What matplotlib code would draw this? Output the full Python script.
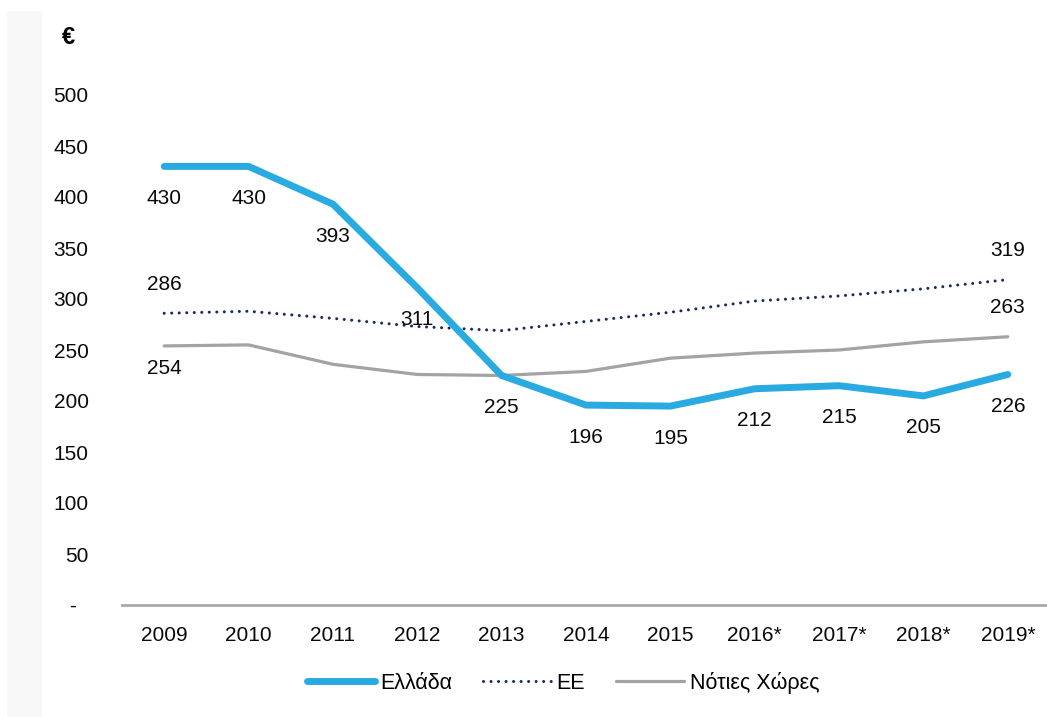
import matplotlib.pyplot as plt
import matplotlib.patches as patches
import numpy as np

# annual values in euro
years = ['2009', '2010', '2011', '2012', '2013', '2014', '2015',
         '2016*', '2017*', '2018*', '2019*']
greece = [430, 430, 393, 311, 225, 196, 195, 212, 215, 205, 226]
eu = [286, 288, 281, 273, 269, 278, 287, 298, 303, 310, 319]
south = [254, 255, 236, 226, 225, 229, 242, 247, 250, 258, 263]

yticks = [0, 50, 100, 150, 200, 250, 300, 350, 400, 450, 500]

c_gr = '#29abe2'
c_eu = '#1b2a5e'
c_so = '#a3a3a3'
c_txt = '#0a0a0a'

plt.rcParams['font.family'] = ['Liberation Sans', 'DejaVu Sans']

fig = plt.figure(figsize=(10.47, 7.17), dpi=100)
fig.patches.append(patches.Rectangle((7 / 1047, 0), 35 / 1047, 1 - 11 / 717,
                                     transform=fig.transFigure,
                                     facecolor='#f8f8f8', edgecolor='none', zorder=0))

ax = fig.add_axes([122 / 1047, 1 - 605 / 717, 928 / 1047, 510 / 717])
ax.patch.set_alpha(0)

x = np.arange(len(years))
ax.plot(x, south, color=c_so, lw=2.3, solid_capstyle='round', label='Νότιες Χώρες', zorder=2)
ax.plot(x, eu, color=c_eu, lw=2.2, linestyle=(0, (0.01, 2.45)), dash_capstyle='round',
        label='ΕΕ', zorder=3)
ax.plot(x, greece, color=c_gr, lw=5, solid_capstyle='round', solid_joinstyle='miter',
        label='Ελλάδα', zorder=4)


def label(i, v, dy):
    ax.annotate(str(v), (x[i], v), xytext=(0, dy), textcoords='offset pixels',
                ha='center', va='center', fontsize=15, color=c_txt, zorder=5)


# value labels: every Greece point, first/last of the others
for i, v in enumerate(greece):
    label(i, v, -32)
label(0, eu[0], 29)
label(10, eu[10], 29)
label(0, south[0], -23)
label(10, south[10], 29)

ax.set_xlim(-0.5, len(years) - 0.5)
ax.set_ylim(0, 500)
ax.set_yticks(yticks)
ax.set_yticklabels(['-  '] + [str(t) for t in yticks[1:]], fontsize=15, color=c_txt)
ax.set_xticks(x)
ax.set_xticklabels(years, fontsize=15, color=c_txt)
ax.tick_params(axis='y', length=0, pad=24)
ax.tick_params(axis='x', length=0, pad=15)

for s in ['top', 'right', 'left']:
    ax.spines[s].set_visible(False)
ax.spines['bottom'].set_color('#a8a8a8')
ax.spines['bottom'].set_linewidth(2)

fig.text(68 / 1047, 1 - 38 / 717, '€', fontsize=17, fontweight='bold', ha='center', va='center')

handles, labels = ax.get_legend_handles_labels()
order = [2, 1, 0]
fig.legend([handles[i] for i in order], [labels[i] for i in order],
           loc='center', bbox_to_anchor=(563 / 1047, 1 - 683 / 717), ncol=3,
           frameon=False, fontsize=15.5, handlelength=3.15, handletextpad=0.25,
           columnspacing=1.45)

fig.savefig('out.png', dpi=100, facecolor='white')
